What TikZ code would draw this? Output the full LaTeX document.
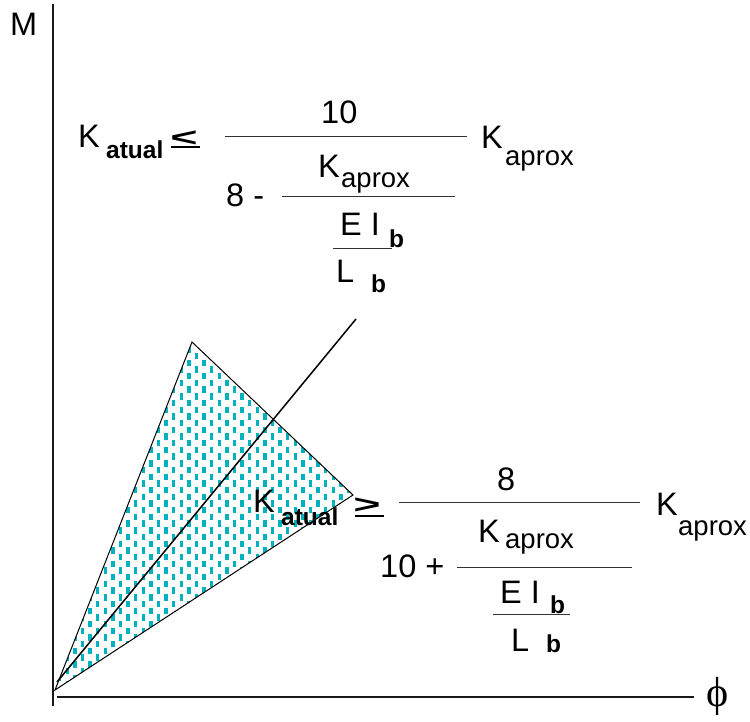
\documentclass[tikz,border=0pt]{standalone}
\usepackage{fontspec}
\setmainfont{Liberation Sans}
\newfontfamily\phifont{Liberation Serif}
\begin{document}
\begin{tikzpicture}[x=1pt,y=-1pt,
  txt/.style={inner sep=0pt, anchor=base west, font=\fontsize{32.5}{32.5}\selectfont},
  sub/.style={inner sep=0pt, anchor=base west, font=\fontsize{27.5}{27.5}\selectfont},
  bsub/.style={inner sep=0pt, anchor=base west, font=\bfseries\fontsize{24.5}{24.5}\selectfont},
  rel/.style={inner sep=0pt, anchor=base west, xscale=1.8, font=\bfseries\fontsize{26}{26}\selectfont},
  relbar/.style={line width=1.6pt},
  fracline/.style={line width=1pt, draw=black!80},
  axis/.style={line width=2pt, draw=black!90},
]
\definecolor{dashc}{RGB}{0,178,190}
\useasboundingbox (0,0) rectangle (750,721);

% axes
\coordinate (ytop) at (53,4);
\coordinate (ybot) at (53,706);
\coordinate (xl) at (57,697);
\coordinate (xr) at (694,697);
\draw[axis] (ytop) -- (ybot);
\draw[axis] (xl) -- (xr);
\node[txt] (M) at (10,35) {M};
\node[inner sep=0pt, font=\phifont\fontsize{42}{42}\selectfont] (phi) at (718,696) {ϕ};

% triangle with dash pattern
\coordinate (t1) at (55,690);
\coordinate (t2) at (192,342);
\coordinate (t3) at (353,495);
\begin{scope}
\clip (t1) -- (t2) -- (t3) -- cycle;
\foreach \i in {0,...,42}{
  \foreach \j in {0,...,28}{
    \pgfmathsetmacro\xx{52+7.6*\i}
    \pgfmathsetmacro\yy{336+13.4*\j+6.7*mod(\i,2)}
    \fill[dashc] (\xx-1.7,\yy-3.2) rectangle (\xx+1.7,\yy+3.2);
  }
}
\end{scope}
\draw[line width=1pt] (t1) -- (t2) -- (t3) -- cycle;

% diagonal line
\coordinate (d1) at (57,682);
\coordinate (d2) at (356,319);
\draw[line width=1.5pt] (d1) -- (d2);

% upper formula
\node[txt] (k1) at (78,147) {K};
\node[bsub] (a1) at (106,158) {atual};
\node[rel] (le) at (170,146) {<};
\coordinate (le1) at (171,147); \coordinate (le2) at (200,147);
\draw[relbar] (le1) -- (le2);
\coordinate (f1a) at (225,136); \coordinate (f1b) at (467,136);
\draw[fracline] (f1a) -- (f1b);
\node[txt] (n10) at (321,123) {10};
\node[txt] (k1r) at (481,148) {K};
\node[sub] (a1r) at (505,165) {aprox};
\node[txt] (e8) at (226,206) {8 -};
\coordinate (f2a) at (282,196); \coordinate (f2b) at (455,196);
\draw[fracline] (f2a) -- (f2b);
\node[txt] (k1i) at (318,177) {K};
\node[sub] (a1i) at (341,187) {aprox};
\node[txt] (ei1) at (340,235) {E I};
\node[bsub] (b1) at (389,247) {b};
\coordinate (f3a) at (333,248); \coordinate (f3b) at (392,248);
\draw[fracline] (f3a) -- (f3b);
\node[txt] (l1) at (336,282) {L};
\node[bsub] (b1l) at (371,292) {b};

% lower formula
\node[txt] (k2) at (253,512) {K};
\node[bsub] (a2) at (281,525) {atual};
\node[rel] (ge) at (353,513) {>};
\coordinate (ge1) at (355,516); \coordinate (ge2) at (384,516);
\draw[relbar] (ge1) -- (ge2);
\coordinate (g1a) at (399,502); \coordinate (g1b) at (640,502);
\draw[fracline] (g1a) -- (g1b);
\node[txt] (n8) at (497,490) {8};
\node[txt] (k2r) at (656,515) {K};
\node[sub] (a2r) at (678,535) {aprox};
\node[txt] (e10) at (380,577) {10 +};
\coordinate (g2a) at (457,567); \coordinate (g2b) at (632,567);
\draw[fracline] (g2a) -- (g2b);
\node[txt] (k2i) at (478,542) {K};
\node[sub] (a2i) at (505,548) {aprox};
\node[txt] (ei2) at (500,603) {E I};
\node[bsub] (b2) at (550,613) {b};
\coordinate (g3a) at (493,614); \coordinate (g3b) at (570,614);
\draw[fracline] (g3a) -- (g3b);
\node[txt] (l2) at (511,651) {L};
\node[bsub] (b2l) at (546,652) {b};
\end{tikzpicture}
\end{document}
